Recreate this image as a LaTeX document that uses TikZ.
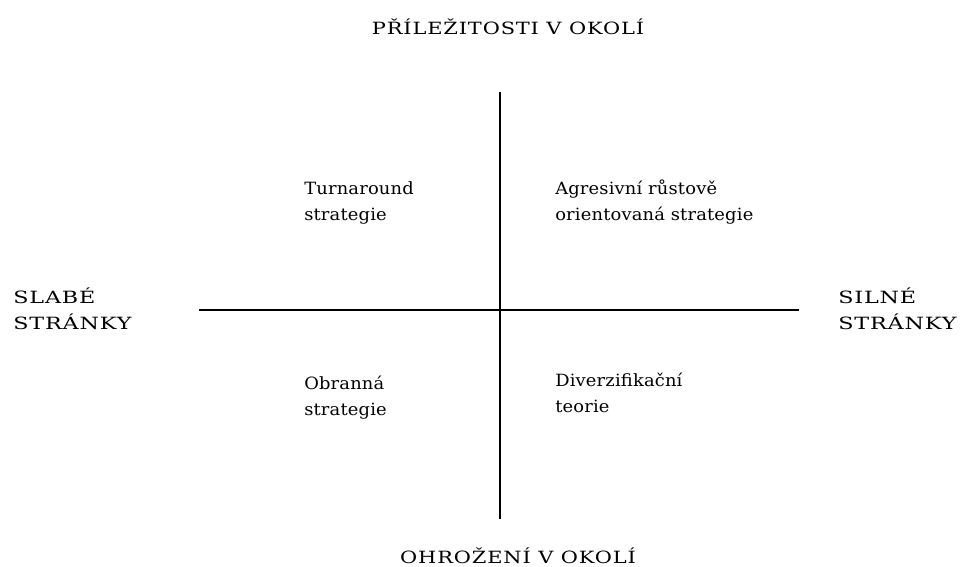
\documentclass[tikz,border=0pt]{standalone}
\usepackage{fontspec}
\setmainfont{DejaVu Serif}[LetterSpace=1,FakeStretch=1.06]
\usetikzlibrary{positioning}

\begin{document}
\begin{tikzpicture}[
  x=0.025cm, y=-0.025cm,
  every node/.style={font=\fontsize{12}{17.8}\selectfont, inner sep=0pt},
  quadtext/.style={align=left, anchor=base west},
  sidetext/.style={align=left, anchor=base west,
    font=\fontsize{12}{17.8}\selectfont\addfontfeature{LetterSpace=5,FakeStretch=1.32}},
  axislabel/.style={anchor=base,
    font=\fontsize{12}{17.8}\selectfont\addfontfeature{LetterSpace=5,FakeStretch=1.24}},
  axisline/.style={draw=black, line width=0.9pt},
]
\useasboundingbox[fill=white] (0,0) rectangle (963,567);

% Axes
\coordinate (top) at (500,92);
\coordinate (bottom) at (500,519);
\coordinate (left) at (199,310);
\coordinate (right) at (799,310);
\draw[axisline] (top) -- (bottom);
\draw[axisline] (left) -- (right);

% Axis labels
\node[axislabel] (opp) at (508,34) {PŘÍLEŽITOSTI V OKOLÍ};
\node[axislabel] (thr) at (518,563) {OHROŽENÍ V OKOLÍ};
\node[sidetext] (weak) at (13,329) {SLABÉ\\STRÁNKY};
\node[sidetext] (strong) at (838,329) {SILNÉ\\STRÁNKY};

% Quadrants
\node[quadtext] (turn) at (304,220) {Turnaround\\strategie};
\node[quadtext] (aggr) at (555,220) {Agresivní růstově\\orientovaná strategie};
\node[quadtext] (defn) at (304,415) {Obranná\\strategie};
\node[quadtext] (divr) at (555,412) {Diverzifikační\\teorie};

\end{tikzpicture}
\end{document}
